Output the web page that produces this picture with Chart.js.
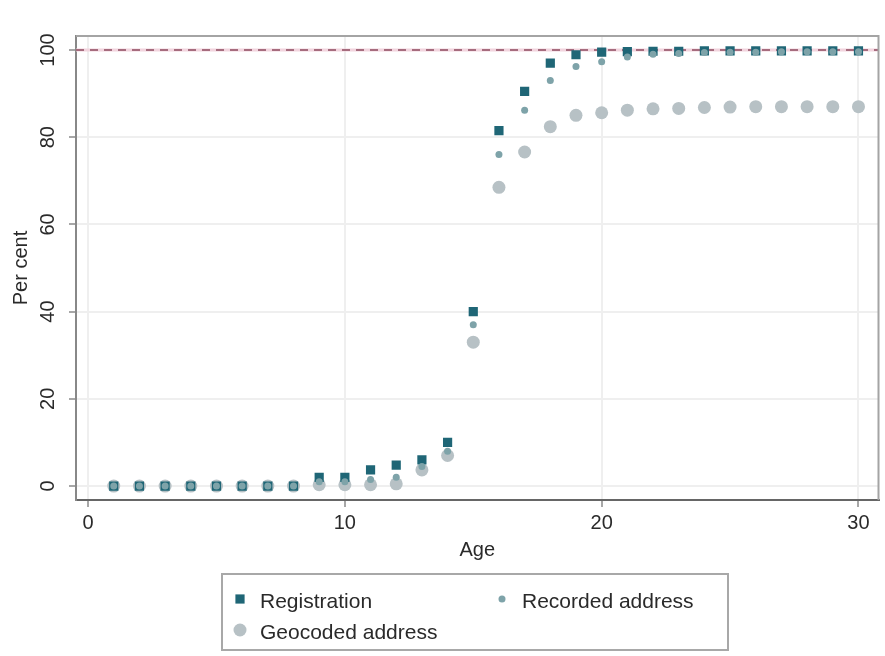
<!DOCTYPE html>
<html>
<head>
<meta charset="utf-8">
<title>Per cent by age</title>
<script src="https://cdn.jsdelivr.net/npm/chart.js@4.4.1/dist/chart.umd.min.js"></script>
<style>
  html, body { margin: 0; padding: 0; background: #ffffff; }
  #wrap { width: 885px; height: 656px; }
</style>
</head>
<body>
<div id="wrap"><canvas id="ageChart" width="885" height="656"></canvas></div>
<script>
// ages 1..30
const ages = [1, 2, 3, 4, 5, 6, 7, 8, 9, 10, 11, 12, 13, 14, 15, 16, 17, 18, 19, 20,
              21, 22, 23, 24, 25, 26, 27, 28, 29, 30];

const registration = [0, 0, 0, 0, 0, 0, 0, 0, 2, 2, 3.7, 4.8, 6, 10, 40, 81.5, 90.5, 97, 98.9, 99.5,
                      99.6, 99.7, 99.7, 99.8, 99.8, 99.8, 99.8, 99.8, 99.8, 99.8];
const recordedAddress = [0, 0, 0, 0, 0, 0, 0, 0, 1, 1, 1.5, 2, 4.5, 8, 37, 76, 86.2, 93, 96.2, 97.3,
                         98.4, 99, 99.2, 99.4, 99.5, 99.5, 99.6, 99.6, 99.6, 99.6];
const geocodedAddress = [0, 0, 0, 0, 0, 0, 0, 0, 0.3, 0.3, 0.3, 0.5, 3.7, 7, 33, 68.5, 76.6, 82.4, 85, 85.6,
                         86.2, 86.5, 86.6, 86.8, 86.9, 87, 87, 87, 87, 87];

const xTicks = [0, 10, 20, 30];
const yTicks = [0, 20, 40, 60, 80, 100];
const refLine = 100;

const FONT = 'Liberation Sans, Arial, sans-serif';

function points(values) {
    return ages.map(function (a, i) { return { x: a, y: values[i] }; });
}

// reference line at 100 per cent
const refLinePlugin = {
    id: 'refLine',
    beforeDatasetsDraw: function (chart) {
        const ctx = chart.ctx;
        const area = chart.chartArea;
        const y = chart.scales.y.getPixelForValue(refLine);
        ctx.save();
        ctx.strokeStyle = '#f2d4de';
        ctx.lineWidth = 3;
        ctx.beginPath();
        ctx.moveTo(area.left, y);
        ctx.lineTo(area.right, y);
        ctx.stroke();
        ctx.strokeStyle = '#a66c7e';
        ctx.lineWidth = 2;
        ctx.setLineDash([8, 6]);
        ctx.beginPath();
        ctx.moveTo(area.left, y);
        ctx.lineTo(area.right, y);
        ctx.stroke();
        ctx.restore();
    }
};

// top and right edges of the plot region
const framePlugin = {
    id: 'frame',
    afterDraw: function (chart) {
        const ctx = chart.ctx;
        const a = chart.chartArea;
        ctx.save();
        ctx.strokeStyle = '#a4a4a4';
        ctx.lineWidth = 2;
        ctx.beginPath();
        ctx.moveTo(a.left, a.top);
        ctx.lineTo(a.right, a.top);
        ctx.lineTo(a.right, a.bottom);
        ctx.stroke();
        ctx.restore();
    }
};

// boxed legend under the x axis title, two columns
const boxLegend = {
    id: 'boxLegend',
    afterDraw: function (chart, args, opts) {
        const ctx = chart.ctx;
        const sets = chart.data.datasets;
        ctx.save();
        ctx.strokeStyle = '#a8a8a8';
        ctx.lineWidth = 2;
        ctx.strokeRect(opts.left, opts.top, opts.width, opts.height);
        ctx.font = opts.fontSize + 'px ' + FONT;
        ctx.textBaseline = 'middle';
        ctx.textAlign = 'left';
        opts.slots.forEach(function (slot, i) {
            const ds = sets[i];
            ctx.fillStyle = ds.backgroundColor;
            const r = ds.pointRadius;
            if (ds.pointStyle === 'rect') {
                const s = r * Math.SQRT1_2;
                ctx.fillRect(slot.x - s, slot.y - s, 2 * s, 2 * s);
            } else {
                ctx.beginPath();
                ctx.arc(slot.x, slot.y, r, 0, Math.PI * 2);
                ctx.fill();
            }
            ctx.fillStyle = '#2a2a2a';
            ctx.fillText(ds.label, slot.x + 20, slot.y + 3);
        });
        ctx.restore();
    }
};

const ctx = document.getElementById('ageChart');

new Chart(ctx, {
    type: 'scatter',
    data: {
        datasets: [
            {
                label: 'Registration',
                data: points(registration),
                pointStyle: 'rect',
                pointRadius: 6.5,
                backgroundColor: '#1f6676',
                borderColor: '#1f6676',
                borderWidth: 0,
                order: 2
            },
            {
                label: 'Recorded address',
                data: points(recordedAddress),
                pointStyle: 'circle',
                pointRadius: 3.5,
                backgroundColor: '#7ea3a9',
                borderColor: '#7ea3a9',
                borderWidth: 0,
                order: 1
            },
            {
                label: 'Geocoded address',
                data: points(geocodedAddress),
                pointStyle: 'circle',
                pointRadius: 6.5,
                backgroundColor: '#b7c1c5',
                borderColor: '#b7c1c5',
                borderWidth: 0,
                order: 3
            }
        ]
    },
    options: {
        responsive: false,
        animation: false,
        layout: { padding: { left: 0, right: 5, top: 36, bottom: 86 } },
        scales: {
            x: {
                type: 'linear',
                min: -0.47,
                max: 30.78,
                afterBuildTicks: function (s) { s.ticks = xTicks.map(function (v) { return { value: v }; }); },
                afterFit: function (s) { s.height = 70; },
                border: { display: true, color: '#666666', width: 2 },
                grid: { color: '#efefef', lineWidth: 2, tickLength: 7, tickColor: '#8a8a8a', tickWidth: 1.5 },
                ticks: { color: '#2a2a2a', padding: 4, maxRotation: 0, font: { family: FONT, size: 20 } },
                title: { display: true, text: 'Age', color: '#2a2a2a', padding: { top: 0, bottom: 8 },
                         font: { family: FONT, size: 20 } }
            },
            y: {
                type: 'linear',
                min: -3.2,
                max: 103.2,
                afterBuildTicks: function (s) { s.ticks = yTicks.map(function (v) { return { value: v }; }); },
                afterFit: function (s) { s.width = 76; },
                border: { display: true, color: '#888888', width: 2 },
                grid: { color: '#efefef', lineWidth: 2, tickLength: 7, tickColor: '#8a8a8a', tickWidth: 1.5 },
                ticks: { color: '#2a2a2a', padding: 4, minRotation: 90, maxRotation: 90, crossAlign: 'center',
                         font: { family: FONT, size: 20 } },
                title: { display: true, text: 'Per cent', color: '#2a2a2a', padding: { top: 9, bottom: 0 },
                         font: { family: FONT, size: 20 } }
            }
        },
        plugins: {
            legend: { display: false },
            tooltip: { enabled: false },
            boxLegend: {
                left: 222, top: 574, width: 506, height: 76, fontSize: 21,
                slots: [{ x: 240, y: 599 }, { x: 502, y: 599 }, { x: 240, y: 630 }]
            }
        }
    },
    plugins: [refLinePlugin, framePlugin, boxLegend]
});
</script>
</body>
</html>
